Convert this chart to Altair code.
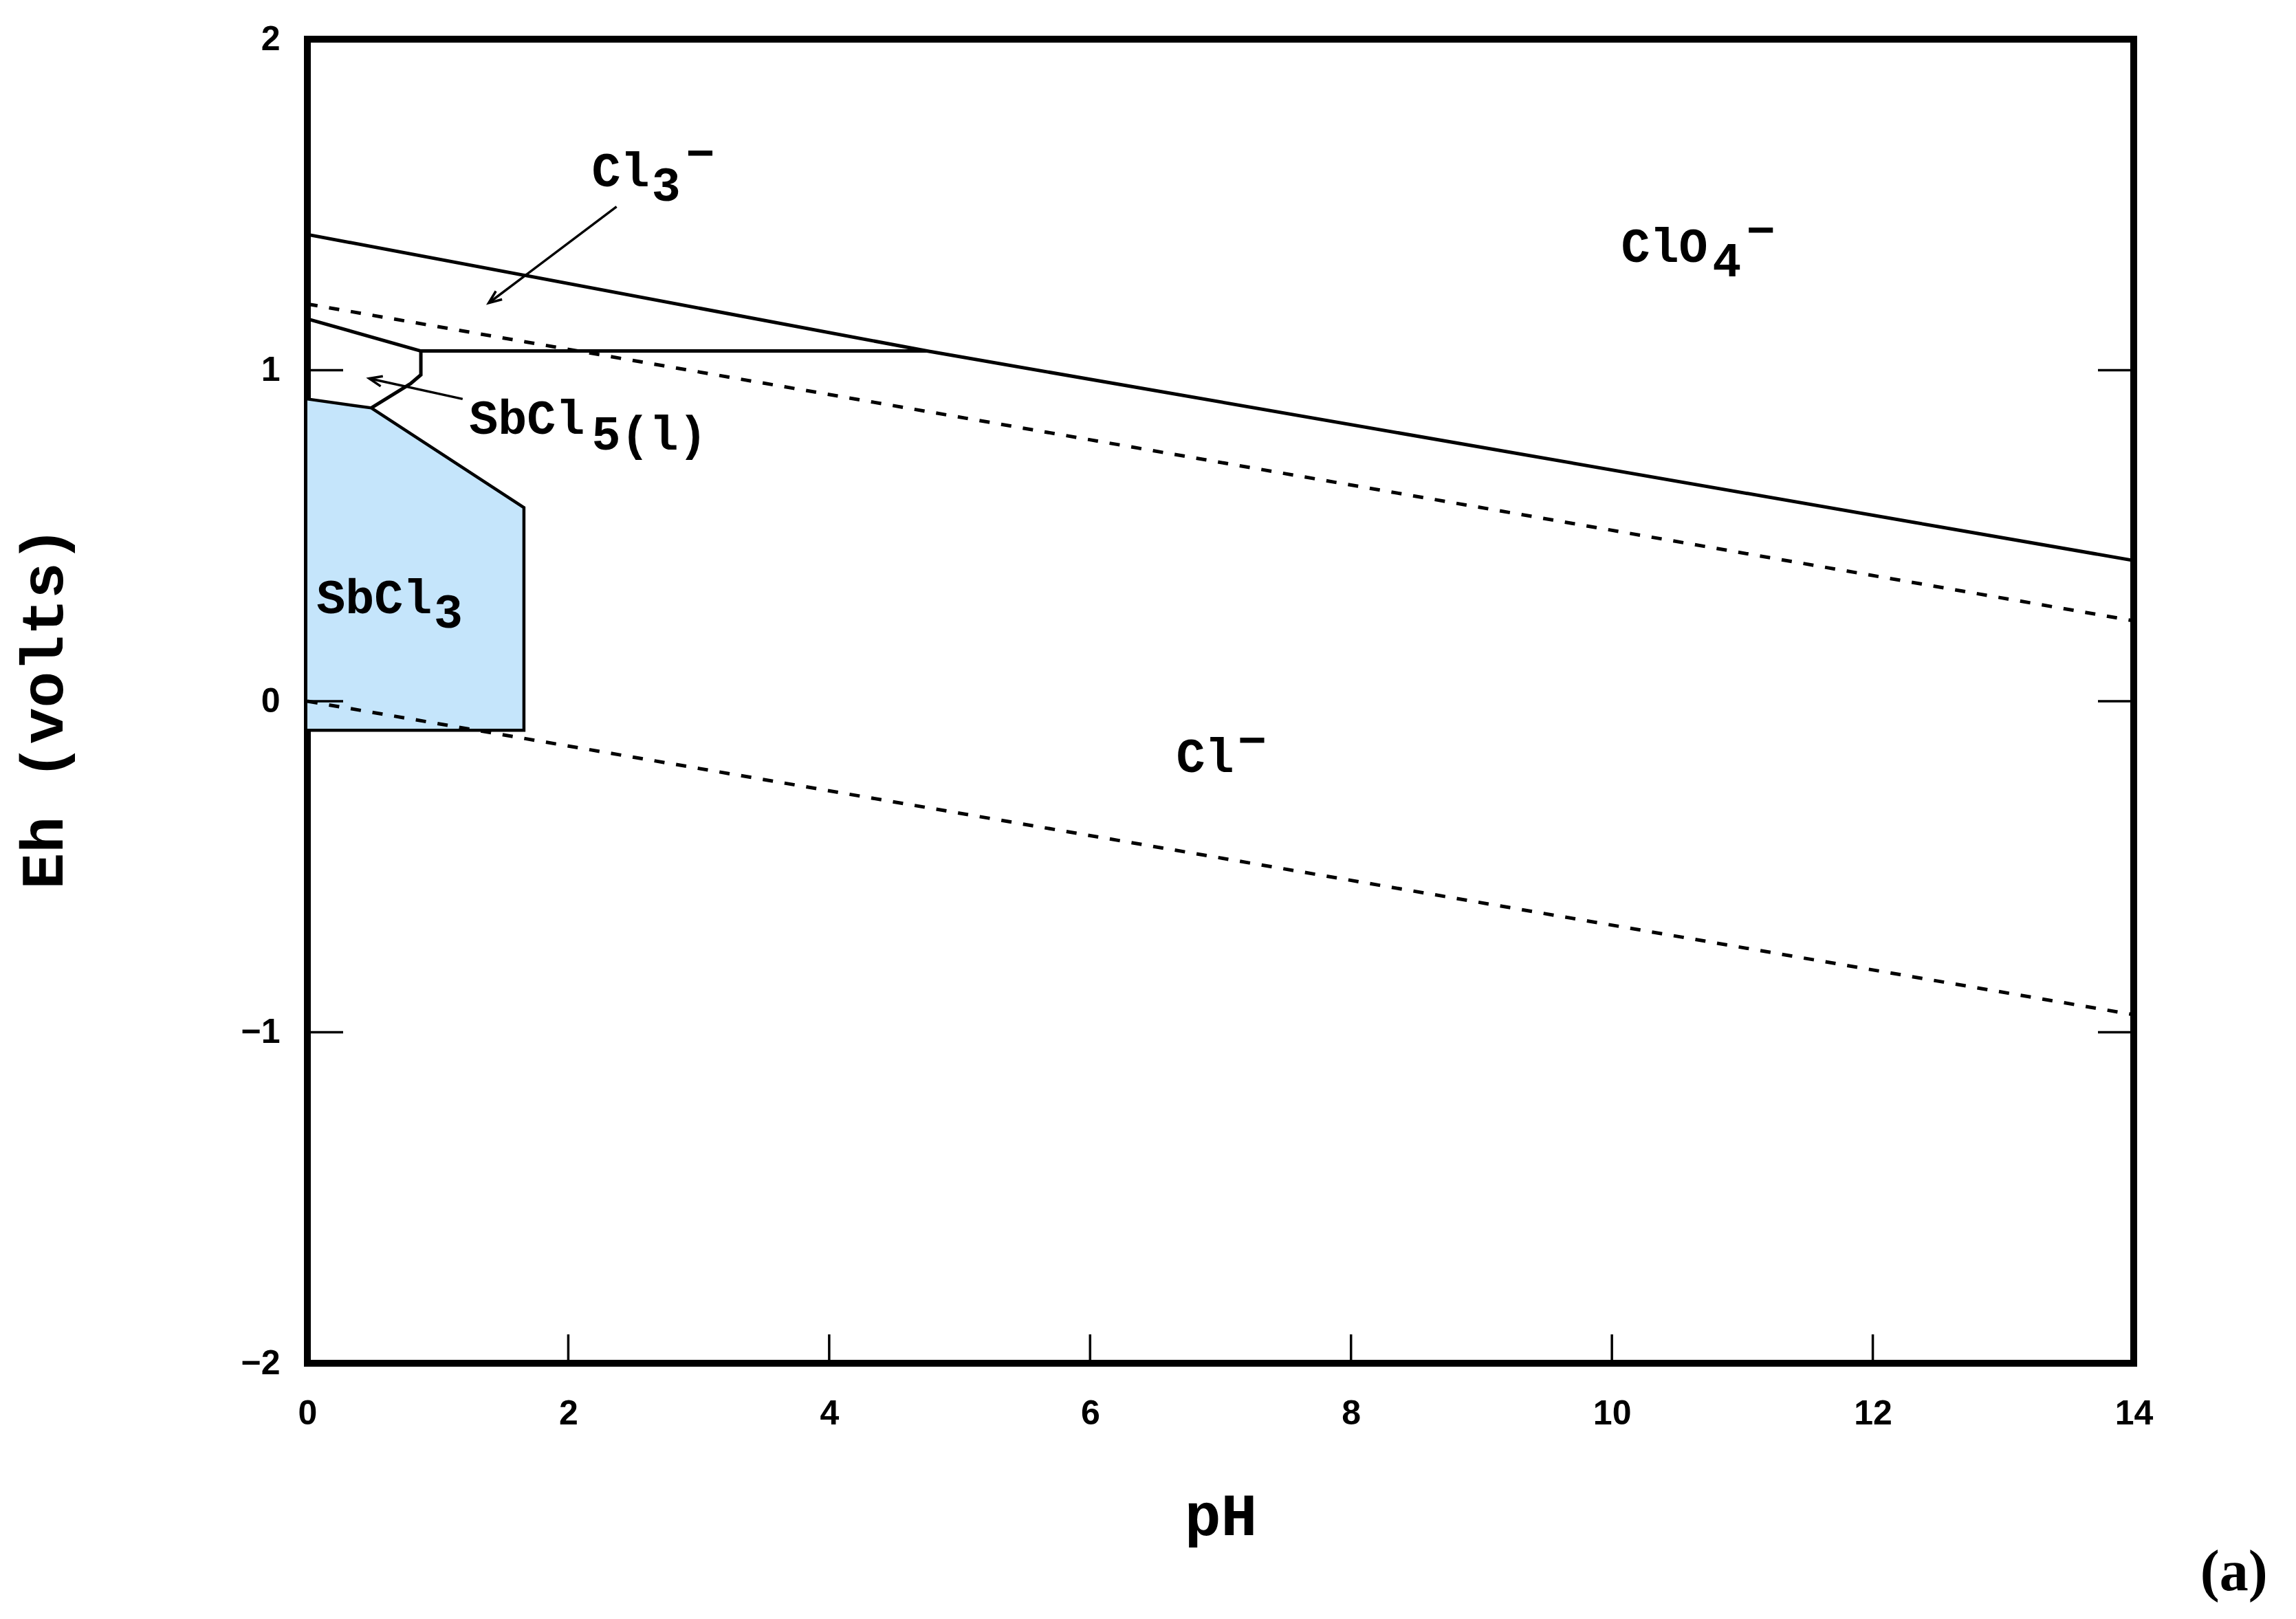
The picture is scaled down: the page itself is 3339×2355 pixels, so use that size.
import altair as alt
import pandas as pd
import numpy as np

# ---------------- data ----------------
# upper solid boundary (ClO4- / Cl-)
top_ph = [0.0, 4.75, 14.0]
top_eh = [1.41, 1.058, 0.425]
# upper water line (dashed)
o2_ph = [0.0, 14.0]
o2_eh = [1.20, 0.243]
# lower water line (dashed)
h2_ph = [0.0, 14.0]
h2_eh = [0.0, -0.947]
# SbCl5(l) boundaries
sb5a_ph = [0.0, 0.87, 4.75]
sb5a_eh = [1.155, 1.058, 1.058]
sb5b_ph = [0.87, 0.87, 0.79, 0.49]
sb5b_eh = [1.058, 0.986, 0.959, 0.886]
# SbCl3 field
sb3_top_ph = [0.0, 0.49, 1.66]
sb3_top_eh = [0.913, 0.886, 0.585]
sb3_bottom = -0.088
sb3_out_ph = [0.0, 0.49, 1.66, 1.66, 0.0]
sb3_out_eh = [0.913, 0.886, 0.585, -0.088, -0.088]
# arrows (start -> tip)
arrow_start_ph = [2.37, 1.19]
arrow_start_eh = [1.494, 0.913]
arrow_tip_ph = [1.39, 0.474]
arrow_tip_eh = [1.203, 0.975]
# labels
label_text = ["Cl", "3", "\u2212", "ClO", "4", "\u2212", "SbCl", "5(l)", "SbCl", "3", "Cl", "\u2212"]
label_ph = [2.18, 2.64, 2.90, 10.07, 10.77, 11.03, 1.24, 2.18, 0.07, 0.97, 6.66, 7.13]
label_eh = [1.556, 1.512, 1.607, 1.328, 1.284, 1.375, 0.808, 0.760, 0.266, 0.222, -0.214, -0.167]
panel_text = ["(a)"]
panel_ph = [14.51]
panel_eh = [-2.685]
# axes
x_ticks = [0, 2, 4, 6, 8, 10, 12, 14]
y_ticks = [-2, -1, 0, 1, 2]
x_inner_ticks = [2, 4, 6, 8, 10, 12]
y_inner_ticks = [-1, 0, 1]

W, H = 2656, 1926
XS = alt.Scale(domain=[0, 14], nice=False, zero=False)
YS = alt.Scale(domain=[-2, 2], nice=False, zero=False)


def poly(name, xs, ys):
    return pd.DataFrame({"id": name, "pH": xs, "Eh": ys, "seq": range(len(xs))})


solid_df = pd.concat([
    poly("top", top_ph, top_eh),
    poly("sb5a", sb5a_ph, sb5a_eh),
    poly("sb5b", sb5b_ph, sb5b_eh),
])
dash_df = pd.concat([poly("o2", o2_ph, o2_eh), poly("h2", h2_ph, h2_eh)])
out_df = poly("sb3", sb3_out_ph, sb3_out_eh)
area_df = pd.DataFrame({"pH": sb3_top_ph, "Eh": sb3_top_eh, "low": sb3_bottom})

shaft_rows = []
for i in range(len(arrow_start_ph)):
    shaft_rows.append({"id": i, "pH": arrow_start_ph[i], "Eh": arrow_start_eh[i], "seq": 0})
    shaft_rows.append({"id": i, "pH": arrow_tip_ph[i], "Eh": arrow_tip_eh[i], "seq": 1})
shaft_df = pd.DataFrame(shaft_rows)

px_x = W / 14.0
px_y = H / 4.0
dx = (np.array(arrow_tip_ph) - np.array(arrow_start_ph)) * px_x
dy = -(np.array(arrow_tip_eh) - np.array(arrow_start_eh)) * px_y
ang = (np.degrees(np.arctan2(dx, -dy)) + 360) % 360
head_df = pd.DataFrame({"pH": arrow_tip_ph, "Eh": arrow_tip_eh, "ang": ang})

lab_df = pd.DataFrame({"pH": label_ph, "Eh": label_eh, "t": label_text})
panel_df = pd.DataFrame({"pH": panel_ph, "Eh": panel_eh, "t": panel_text})
ytick_df = pd.DataFrame({"Eh": y_inner_ticks})
xtick_df = pd.DataFrame({"pH": x_inner_ticks})

x_axis = alt.Axis(values=x_ticks, title="pH", labelFont="Liberation Sans", labelFontSize=50,
                  labelFontWeight="bold", labelColor="black", labelPadding=48, labelFlush=False,
                  ticks=False, tickSize=0, domain=False, grid=False,
                  titleFont="Liberation Mono", titleFontSize=88, titleFontWeight="bold",
                  titleColor="black", titleX=1328, titleY=223, titleBaseline="middle",
                  titleAlign="center")
y_axis = alt.Axis(values=y_ticks, title="Eh (volts)", labelFont="Liberation Sans", labelFontSize=50,
                  labelFontWeight="bold", labelColor="black", labelPadding=40, labelFlush=False,
                  ticks=False, tickSize=0, domain=False, grid=False,
                  titleFont="Liberation Mono", titleFontSize=88, titleFontWeight="bold",
                  titleColor="black", titleAngle=270, titleX=-383, titleY=972,
                  titleBaseline="middle", titleAlign="center")

X = alt.X("pH:Q", scale=XS, axis=x_axis, title="pH")
Y = alt.Y("Eh:Q", scale=YS, axis=y_axis, title="Eh (volts)")

area = alt.Chart(area_df).mark_area(color="#c5e5fb", opacity=1).encode(x=X, y=Y, y2="low:Q")

outline = alt.Chart(out_df).mark_line(color="black", strokeWidth=4.5).encode(
    x=X, y=Y, order="seq:Q")

solid = alt.Chart(solid_df).mark_line(color="black", strokeWidth=5).encode(
    x=X, y=Y, detail="id:N", order="seq:Q")

dashed = alt.Chart(dash_df).mark_line(color="black", strokeWidth=5, strokeDash=[15, 17]).encode(
    x=X, y=Y, detail="id:N", order="seq:Q")

shafts = alt.Chart(shaft_df).mark_line(color="black", strokeWidth=3.5).encode(
    x=X, y=Y, detail="id:N", order="seq:Q")

heads = alt.Chart(head_df).mark_point(shape="M-0.4,1L0,0L0.4,1", filled=False, color="black",
                                      strokeWidth=3.5, size=1400, opacity=1).encode(
    x=X, y=Y, angle=alt.Angle("ang:Q", scale=None))

yticks_l = alt.Chart(ytick_df).mark_rule(color="black", strokeWidth=3.5).encode(
    y=Y, x=alt.value(0), x2=alt.value(52))
yticks_r = alt.Chart(ytick_df).mark_rule(color="black", strokeWidth=3.5).encode(
    y=Y, x=alt.value(W - 52), x2=alt.value(W))
xticks_b = alt.Chart(xtick_df).mark_rule(color="black", strokeWidth=3.5).encode(
    x=X, y=alt.value(H), y2=alt.value(H - 42))

labels = alt.Chart(lab_df).mark_text(align="left", baseline="alphabetic", font="Liberation Mono",
                                     fontSize=70, fontWeight="bold", color="black").encode(
    x=X, y=Y, text="t:N")

panel = alt.Chart(panel_df).mark_text(align="left", baseline="alphabetic", font="Liberation Serif",
                                      fontSize=84, fontWeight="bold", color="black").encode(
    x=X, y=Y, text="t:N")

chart = alt.layer(area, outline, solid, dashed, shafts, heads, yticks_l, yticks_r, xticks_b,
                  labels, panel).properties(
    width=W, height=H,
    autosize=alt.AutoSizeParams(type="none"),
    padding={"left": 439, "top": 49, "right": 228, "bottom": 364},
    background="white",
).configure_view(stroke="black", strokeWidth=10)

chart.save("out.html", embed_options={"renderer": "svg", "actions": False})
